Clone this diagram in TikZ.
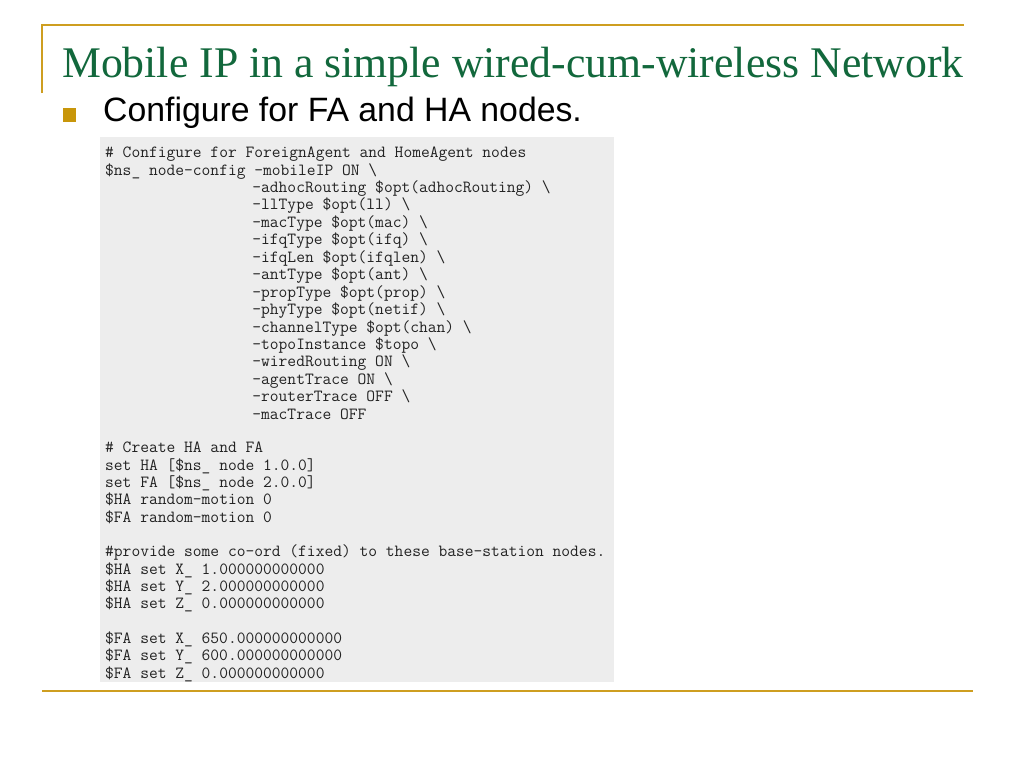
\documentclass[tikz,border=0pt]{standalone}
\usepackage{fontspec}
\setmainfont{Liberation Serif}
\newfontfamily\sansfnt{Liberation Sans}
\definecolor{goldline}{RGB}{206,158,32}
\definecolor{goldbullet}{RGB}{200,150,10}
\definecolor{titlegreen}{RGB}{18,104,60}
\definecolor{codebg}{RGB}{237,237,237}
\definecolor{codetxt}{RGB}{34,34,34}
\tikzset{
  rule/.style={draw=goldline, line width=2bp},
  titletext/.style={anchor=base west, inner sep=0, text=titlegreen, font=\fontsize{43.9}{44}\selectfont},
  bullettext/.style={anchor=base west, inner sep=0, text=black, font=\sansfnt\fontsize{33.9}{34}\selectfont},
  code/.style={anchor=base west, inner sep=0, text=codetxt, font=\ttfamily\fontsize{17.1}{18}\selectfont},
}
\begin{document}
\begin{tikzpicture}[x=1bp,y=-1bp]
\useasboundingbox (0,0) rectangle (1024,768);
\fill[white] (0,0) rectangle (1024,768);
% frame rules
\coordinate (tl) at (42,25);
\coordinate (tr) at (964,25);
\coordinate (lb) at (42,93);
\coordinate (bl) at (42,691);
\coordinate (br) at (973,691);
\draw[rule] (lb) -- (tl) -- (tr);
\draw[rule] (bl) -- (br);
% title
\node[titletext] (title) at (62,78) {Mobile IP in a simple wired-cum-wireless Network};
% bullet
\fill[goldbullet] (63,108) rectangle (76,122);
\node[bullettext] (bullet) at (103,121) {Configure for FA and HA nodes.};
% code box
\fill[codebg] (100,137) rectangle (614,682);
\def\cx{105}
\def\cy{252.2}
\node[code] (c1)  at (\cx,157.5) {\# Configure for ForeignAgent and HomeAgent nodes};
\node[code] (c2)  at (\cx,175.0) {\$ns\_ node-config -mobileIP ON \textbackslash};
\node[code] (c3)  at (\cy,192.4) {-adhocRouting \$opt(adhocRouting) \textbackslash};
\node[code] (c4)  at (\cy,209.9) {-llType \$opt(ll) \textbackslash};
\node[code] (c5)  at (\cy,227.3) {-macType \$opt(mac) \textbackslash};
\node[code] (c6)  at (\cy,244.8) {-ifqType \$opt(ifq) \textbackslash};
\node[code] (c7)  at (\cy,262.2) {-ifqLen \$opt(ifqlen) \textbackslash};
\node[code] (c8)  at (\cy,279.7) {-antType \$opt(ant) \textbackslash};
\node[code] (c9)  at (\cy,297.1) {-propType \$opt(prop) \textbackslash};
\node[code] (c10) at (\cy,314.6) {-phyType \$opt(netif) \textbackslash};
\node[code] (c11) at (\cy,332.0) {-channelType \$opt(chan) \textbackslash};
\node[code] (c12) at (\cy,349.5) {-topoInstance \$topo \textbackslash};
\node[code] (c13) at (\cy,366.9) {-wiredRouting ON \textbackslash};
\node[code] (c14) at (\cy,384.4) {-agentTrace ON \textbackslash};
\node[code] (c15) at (\cy,401.8) {-routerTrace OFF \textbackslash};
\node[code] (c16) at (\cy,419.3) {-macTrace OFF};
\node[code] (d1) at (\cx,452.5) {\# Create HA and FA};
\node[code] (d2) at (\cx,470.0) {set HA [\$ns\_ node 1.0.0]};
\node[code] (d3) at (\cx,487.4) {set FA [\$ns\_ node 2.0.0]};
\node[code] (d4) at (\cx,504.9) {\$HA random-motion 0};
\node[code] (d5) at (\cx,522.3) {\$FA random-motion 0};
\node[code] (e1) at (\cx,556.5) {\#provide some co-ord (fixed) to these base-station nodes.};
\node[code] (e2) at (\cx,574.0) {\$HA set X\_ 1.000000000000};
\node[code] (e3) at (\cx,591.4) {\$HA set Y\_ 2.000000000000};
\node[code] (e4) at (\cx,608.9) {\$HA set Z\_ 0.000000000000};
\node[code] (f1) at (\cx,643.0) {\$FA set X\_ 650.000000000000};
\node[code] (f2) at (\cx,660.5) {\$FA set Y\_ 600.000000000000};
\node[code] (f3) at (\cx,678.0) {\$FA set Z\_ 0.000000000000};
\end{tikzpicture}
\end{document}
